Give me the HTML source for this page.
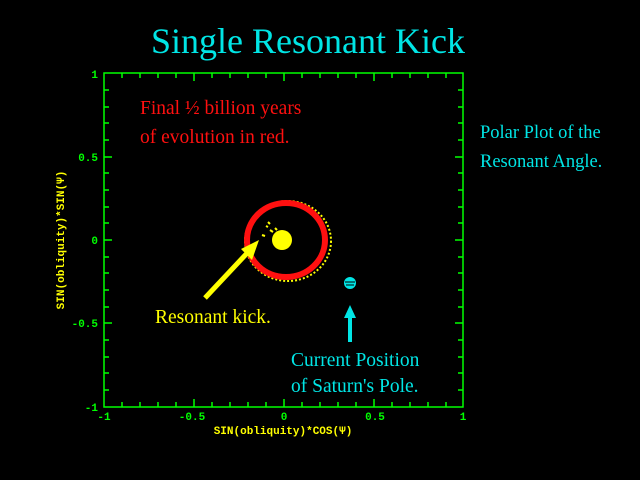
<!DOCTYPE html>
<html><head><style>
body{margin:0;background:#000;width:640px;height:480px;overflow:hidden;position:relative;font-family:"Liberation Serif",serif}
.t{position:absolute;white-space:nowrap}
</style></head><body>
<div class="t" style="left:151px;top:20px;font-size:36px;color:#00e5e5">Single Resonant Kick</div>
<div class="t" style="left:140px;top:94px;font-size:19.5px;color:#ff1010;line-height:29px">Final ½ billion years<br>of evolution in red.</div>
<div class="t" style="left:480px;top:119px;font-size:18.5px;color:#00e5e5;line-height:29px">Polar Plot of the<br>Resonant Angle.</div>
<div class="t" style="left:155px;top:307px;font-size:19.5px;color:#ffff00">Resonant kick.</div>
<div class="t" style="left:291px;top:348px;font-size:19.5px;color:#00e5e5;line-height:26px">Current Position<br>of Saturn's Pole.</div>
<svg width="640" height="480" style="position:absolute;left:0;top:0" font-family="Liberation Mono,monospace">
<g stroke="#00ff00" stroke-width="1.5" fill="none">
<rect x="104" y="73" width="359" height="334"/>
<path d="M104 90h5M104 107h5M104 123h5M104 140h5M104 157h8M104 173h5M104 190h5M104 207h5M104 223h5M104 240h8M104 257h5M104 273h5M104 290h5M104 307h5M104 323h8M104 340h5M104 357h5M104 373h5M104 390h5
M463 90h-5M463 107h-5M463 123h-5M463 140h-5M463 157h-8M463 173h-5M463 190h-5M463 207h-5M463 223h-5M463 240h-8M463 257h-5M463 273h-5M463 290h-5M463 307h-5M463 323h-8M463 340h-5M463 357h-5M463 373h-5M463 390h-5
M122 407v-5M140 407v-5M158 407v-5M176 407v-5M194 407v-8M212 407v-5M230 407v-5M248 407v-5M266 407v-5M284 407v-8M302 407v-5M320 407v-5M338 407v-5M356 407v-5M374 407v-8M392 407v-5M410 407v-5M428 407v-5M446 407v-5
M122 73v5M140 73v5M158 73v5M176 73v5M194 73v8M212 73v5M230 73v5M248 73v5M266 73v5M284 73v8M302 73v5M320 73v5M338 73v5M356 73v5M374 73v8M392 73v5M410 73v5M428 73v5M446 73v5"/>
</g>
<g fill="#00ff00" font-size="11" font-weight="bold">
<text x="98" y="78" text-anchor="end">1</text>
<text x="98" y="161" text-anchor="end">0.5</text>
<text x="98" y="244" text-anchor="end">0</text>
<text x="98" y="327" text-anchor="end">-0.5</text>
<text x="98" y="411" text-anchor="end">-1</text>
<text x="104" y="420" text-anchor="middle">-1</text>
<text x="192" y="420" text-anchor="middle">-0.5</text>
<text x="284" y="420" text-anchor="middle">0</text>
<text x="375" y="420" text-anchor="middle">0.5</text>
<text x="463" y="420" text-anchor="middle">1</text>
</g>
<text x="283" y="434" fill="#ffff00" font-size="11" font-weight="bold" text-anchor="middle">SIN(obliquity)*COS(Ψ)</text>
<text transform="translate(64,240) rotate(-90)" fill="#ffff00" font-size="11" font-weight="bold" text-anchor="middle">SIN(obliquity)*SIN(Ψ)</text>
<ellipse cx="288" cy="241" rx="43" ry="40" fill="none" stroke="#ffff00" stroke-width="2" stroke-dasharray="2 2"/>
<ellipse cx="286" cy="240" rx="39" ry="37" fill="none" stroke="#ff1010" stroke-width="6"/>
<circle cx="282" cy="240" r="10" fill="#ffff00"/>
<path d="M270 230l3 2M266 226l2 1M275 228l2 2M262 235l3 1M268 222l2 2" stroke="#ffff00" stroke-width="2"/>
<line x1="205" y1="298" x2="250" y2="250" stroke="#ffff00" stroke-width="5"/>
<polygon points="259,240 241,249 252,260" fill="#ffff00"/>
<circle cx="350" cy="283" r="6" fill="#00e5e5"/>
<path d="M345 282h10M346 285h8" stroke="#000" stroke-width="1"/>
<line x1="350" y1="342" x2="350" y2="316" stroke="#00e5e5" stroke-width="4"/>
<polygon points="350,305 344,318 356,318" fill="#00e5e5"/>
</svg>
</body></html>
